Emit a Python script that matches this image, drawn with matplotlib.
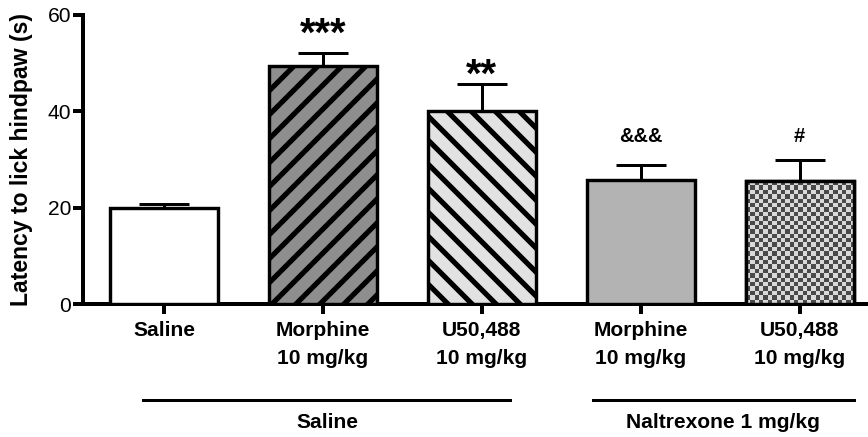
import numpy as np
import matplotlib
matplotlib.use("Agg")
import matplotlib.pyplot as plt

# ---- data ----
categories = ["Saline", "Morphine\n10 mg/kg", "U50,488\n10 mg/kg",
              "Morphine\n10 mg/kg", "U50,488\n10 mg/kg"]
means = [20.0, 49.4, 40.0, 25.8, 25.5]
sems = [0.7, 2.8, 5.7, 3.0, 4.3]
signif = ["", "***", "**", "&&&", "#"]
groups = ["Saline", "Naltrexone 1 mg/kg"]

# ---- style ----
fills = ["#ffffff", "#8e8e8e", "#e2e2e2", "#b3b3b3", "#dcdcdc"]
hatches = [None, "//", "\\\\", None, None]

plt.rcParams["font.family"] = ["Liberation Sans", "DejaVu Sans"]
plt.rcParams["hatch.linewidth"] = 2.6

DPI = 144
fig = plt.figure(figsize=(868 / DPI, 437 / DPI), dpi=DPI)
ax = fig.add_axes([83 / 868, (437 - 304) / 437, 1 - 83 / 868, (304 - 15) / 437])

x = np.arange(len(categories))
width = 0.68
bars = ax.bar(x, means, width=width, color=fills, edgecolor="black",
              linewidth=1.7, zorder=3)
for b, h in zip(bars, hatches):
    if h:
        b.set_hatch(h)

ax.errorbar(x, means, yerr=[np.zeros(len(means)), sems], fmt="none",
            ecolor="black", elinewidth=1.5, capsize=12.5, capthick=1.5,
            zorder=2)

# checkerboard fill for last bar
b = bars[4]
ncols = 25
nrows = 28
checker = (np.add.outer(np.arange(nrows), np.arange(ncols)) % 2).astype(float)
bx, bw, bh = b.get_x(), b.get_width(), b.get_height()
im = ax.imshow(checker, cmap=matplotlib.colors.ListedColormap(["#4a4a4a", "#d9d9d9"]),
               extent=(bx, bx + bw, 0, bh), aspect="auto",
               interpolation="nearest", zorder=3.5)
im.set_clip_path(b)
edge = plt.Rectangle((bx, 0), bw, bh, fill=False, edgecolor="black",
                     linewidth=1.7, zorder=4)
ax.add_patch(edge)
ax.set_xlim(-0.51, 4.43)
ax.set_ylim(0, 60)

# annotations
sig_sizes = [20, 20, 20, 10, 10]
sig_offsets = [0, -0.75, -5.25, 9.5, 7]
for xi, m, s, lab, fs, off in zip(x, means, sems, signif, sig_sizes, sig_offsets):
    if lab:
        ax.annotate(lab, (xi, m + s), xytext=(0, off),
                    textcoords="offset points", ha="center", va="bottom",
                    fontsize=fs, fontweight="bold", clip_on=False)

# axes styling
for sp in ["top", "right"]:
    ax.spines[sp].set_visible(False)
for sp in ["left", "bottom"]:
    ax.spines[sp].set_linewidth(2.0)
ax.set_yticks([0, 20, 40, 60])
ax.tick_params(axis="y", length=5, width=2, pad=1, labelsize=10.5)
ax.tick_params(axis="x", length=5, width=2, pad=3.5, labelsize=10.5)
ax.set_xticks(x)
ax.set_xticklabels(categories, fontweight="bold", linespacing=1.6)
ax.set_ylabel("Latency to lick hindpaw (s)", fontsize=11.5, fontweight="bold")
ax.yaxis.set_label_coords(-0.064, 0.5)

# group lines
trans = matplotlib.transforms.blended_transform_factory(ax.transData, ax.transAxes)
line_spans = [(-0.13, 2.18), (2.70, 4.34)]
for (x0, x1), g in zip(line_spans, groups):
    ax.plot([x0, x1], [-0.332, -0.332], color="black", linewidth=1.5,
            transform=trans, clip_on=False)
    ax.text((x0 + x1) / 2, -0.41, g, transform=trans, ha="center", va="center",
            fontsize=10.5, fontweight="bold")

fig.savefig("out.png", dpi=DPI)
